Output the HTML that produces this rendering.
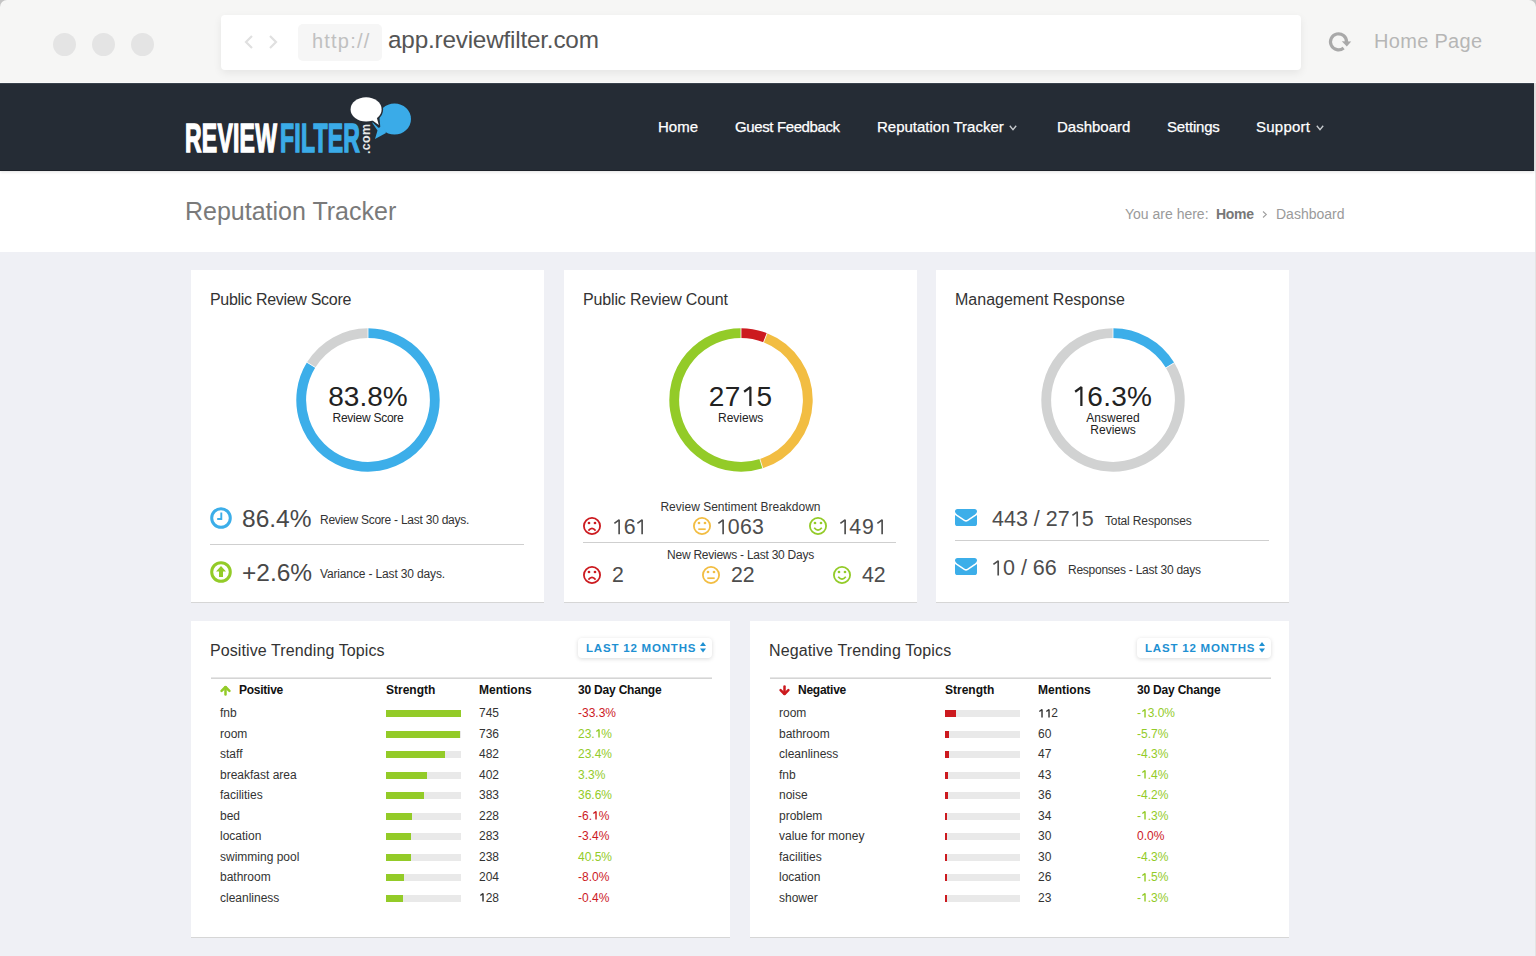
<!DOCTYPE html><html><head><meta charset="utf-8"><title>ReviewFilter</title><style>
*{margin:0;padding:0;box-sizing:border-box}
html,body{width:1536px;height:956px;overflow:hidden;background:#c4c4c4;font-family:"Liberation Sans",sans-serif}
.abs{position:absolute}
.chrome{position:absolute;left:0;top:0;width:1536px;height:83px;background:#f6f6f5}
.dot{position:absolute;top:33px;width:23px;height:23px;border-radius:50%;background:#e4e4e4}
.addr{position:absolute;left:221px;top:15px;width:1080px;height:55px;background:#fff;border-radius:4px;box-shadow:0 3px 8px rgba(0,0,0,.07)}
.nav{position:absolute;left:0;top:83px;width:1534px;height:88px;background:#252c35;border-bottom:1px solid #1c2128;box-shadow:0 1px 3px rgba(0,0,0,.12), inset 0 1px 0 #39424c;z-index:2}
.nav a{position:absolute;top:34px;color:#fff;font-size:15px;line-height:20px;text-decoration:none;white-space:nowrap;-webkit-text-stroke:0.25px #fff}
.hdr{position:absolute;left:0;top:171px;width:1535px;height:81px;background:#fff}
.main{position:absolute;left:0;top:252px;width:1535px;height:704px;background:#eff0f5}
.edge{position:absolute;left:1535px;top:171px;width:1px;height:785px;background:#e4e4e4}
.edge2{position:absolute;left:1534px;top:83px;width:2px;height:88px;background:#e6e6e6}
.card{position:absolute;background:#fff;box-shadow:0 1px 0 #d6d6d6}
.ttl{position:absolute;left:19px;top:20px;font-size:16px;line-height:20px;color:#333;white-space:nowrap}
.th{position:absolute;top:61px;font-size:12px;line-height:16px;font-weight:700;color:#111;white-space:nowrap}
.td{position:absolute;font-size:12px;line-height:16px;color:#333;white-space:nowrap}
.bar{position:absolute;width:75px;height:7px;background:#e9e9e9}
.bar i{display:block;height:7px}
.btn{position:absolute;top:17px;height:20px;width:134px;background:#fff;border-radius:4px;box-shadow:0 1px 4px rgba(0,0,0,.15);color:#1e90d2;font-size:11.5px;font-weight:700;letter-spacing:0.8px;line-height:20px;padding-left:8px;white-space:nowrap}
.hline{position:absolute;left:19.5px;height:2px;border-top:1px solid #e6e6e6;border-bottom:1px solid #d5d5d5}
.dn{position:absolute;left:104px;top:57.5px;width:144px;height:144px}
.ctr{position:absolute;left:0;width:144px;text-align:center;color:#222;white-space:nowrap}
.big{font-size:24.5px;line-height:30px;color:#484848}
.small{font-size:12px;line-height:16px;color:#333}
.mid{font-size:21.3px;line-height:24px;color:#4d4d4d;white-space:nowrap}
.mid2{font-size:21.5px;line-height:26px;color:#4d4d4d;white-space:nowrap}
.one{display:inline-block;width:0.556em;height:0.716em;vertical-align:0;overflow:visible}
.sep{position:absolute;height:1px;background:#cfcfcf}
</style></head><body>
<div class="chrome" style="border-top-left-radius:7px;border-top-right-radius:7px;overflow:hidden">
 <div class="dot" style="left:53px"></div><div class="dot" style="left:92px"></div><div class="dot" style="left:131px"></div>
 <div class="addr">
  <svg class="abs" style="left:23px;top:20px" width="36" height="14" viewBox="0 0 36 14"><path d="M8 1 L2 7 L8 13" fill="none" stroke="#e0e0e0" stroke-width="2.2"/><path d="M49 1" /><path d="M49 1"/><path d="M49 1"/><path d="M48 1"/><path d="M48 1"/></svg>
  <svg class="abs" style="left:47px;top:20px" width="12" height="14" viewBox="0 0 12 14"><path d="M2 1 L8 7 L2 13" fill="none" stroke="#e0e0e0" stroke-width="2.2"/></svg>
  <div class="abs" style="left:77px;top:9px;width:84px;height:37px;background:#f6f6f6;border-radius:5px"></div>
  <div class="abs" style="left:91px;top:14px;font-size:20px;line-height:24px;color:#c0c0c0;letter-spacing:1.2px">http://</div>
  <div class="abs" style="left:167px;top:11px;font-size:24.3px;line-height:28px;color:#555;letter-spacing:-0.2px">app.reviewfilter.com</div>
 </div>
 <svg class="abs" style="left:1327px;top:30px" width="26" height="24" viewBox="0 0 26 24"><path d="M16.64 17.93 A8 8 0 1 1 19.5 11.9" fill="none" stroke="#a9a9a9" stroke-width="3.2"/><path d="M14.8 11.3 L24.2 11.6 L19.8 16.6 Z" fill="#a9a9a9"/></svg>
 <div class="abs" style="left:1374px;top:29px;font-size:20px;line-height:24px;color:#b6b6b6;letter-spacing:0.3px">Home Page</div>
</div>
<div class="abs" style="left:0;top:82px;width:1536px;height:1px;background:#fff"></div>
<div class="nav">
 <div class="abs" style="left:185px;top:35px;font-size:40px;line-height:40px;font-weight:700;color:#fff;-webkit-text-stroke:1.5px #fff;transform:scaleX(0.575);transform-origin:0 0;white-space:nowrap;letter-spacing:0.4px">REVIEW<span style="color:#3aabe8;-webkit-text-stroke:1.5px #3aabe8;margin-left:5px">FILTER</span></div>
 <div class="abs" style="left:361px;top:71px;font-size:12.5px;line-height:11px;color:#e8e8e8;font-weight:700;transform:rotate(-90deg);transform-origin:0 0;white-space:nowrap;letter-spacing:0.3px">.com</div>
 <svg class="abs" style="left:345px;top:10px" width="70" height="60" viewBox="0 0 70 60">
  <ellipse cx="49.5" cy="26" rx="16.5" ry="15.6" fill="#3aabe8"/>
  <path d="M27 29.6 L36 28 L41 40 L30 46 L32.5 37.5 Z" fill="#3aabe8"/>
  <ellipse cx="21.1" cy="16.4" rx="17" ry="13.6" fill="#252c35"/>
  <path d="M25 25 L34 33.5 L33 22 Z" fill="#252c35" stroke="#252c35" stroke-width="2.5" stroke-linejoin="round"/>
  <ellipse cx="21.1" cy="16.4" rx="15.5" ry="12.1" fill="#fff"/>
  <path d="M25.5 26 L33.8 32.1 L31.5 23.5 Z" fill="#fff"/>
 </svg>
 <a style="left:658px">Home</a>
 <a style="left:735px;letter-spacing:-0.38px">Guest Feedback</a>
 <a style="left:877px">Reputation Tracker</a>
 <a style="left:1057px">Dashboard</a>
 <a style="left:1167px;letter-spacing:-0.2px">Settings</a>
 <a style="left:1256px;letter-spacing:0.25px">Support</a>
 <svg class="abs" style="left:1009px;top:42px" width="8" height="6" viewBox="0 0 8 6"><path d="M0.8 0.8 L4 4.6 L7.2 0.8" fill="none" stroke="#c8cbcf" stroke-width="1.35"/></svg>
 <svg class="abs" style="left:1315.5px;top:42px" width="8" height="6" viewBox="0 0 8 6"><path d="M0.8 0.8 L4 4.6 L7.2 0.8" fill="none" stroke="#c8cbcf" stroke-width="1.35"/></svg>
</div>
<div class="hdr">
 <div class="abs" style="left:185px;top:25px;font-size:25px;line-height:30px;color:#7a7a7a">Reputation Tracker</div>
 <div class="abs" style="left:1125px;top:34px;font-size:14px;line-height:18px;color:#9a9a9a;white-space:nowrap">You are here:</div>
 <div class="abs" style="left:1216px;top:34px;font-size:14px;line-height:18px;color:#777;font-weight:700;white-space:nowrap;letter-spacing:-0.3px">Home</div>
 <svg class="abs" style="left:1262px;top:40px" width="6" height="7" viewBox="0 0 6 7"><path d="M1 0.5 L4.3 3.5 L1 6.5" fill="none" stroke="#a0a0a0" stroke-width="1.1"/></svg>
 <div class="abs" style="left:1276px;top:34px;font-size:14px;line-height:18px;color:#9a9a9a;white-space:nowrap">Dashboard</div>
</div>
<div class="main"></div>
<div class="edge"></div><div class="edge2"></div>

<div class="card" style="left:191px;top:270px;width:353px;height:332px">
 <div class="ttl" style="letter-spacing:-0.3px">Public Review Score</div>
 <div class="dn" style="left:105px"><svg width="144" height="144" viewBox="0 0 144 144"><path d="M72.00,5.20 A66.8,66.8 0 1 1 15.15,36.92" fill="none" stroke="#3caee9" stroke-width="9.8"/><path d="M15.15,36.92 A66.8,66.8 0 0 1 72.00,5.20" fill="none" stroke="#d1d2d2" stroke-width="9.8"/><line x1="72.00" y1="11.20" x2="72.00" y2="-0.80" stroke="#fff" stroke-width="0.8"/><line x1="20.26" y1="40.07" x2="10.05" y2="33.77" stroke="#fff" stroke-width="0.8"/></svg>
  <div class="ctr" style="top:53.5px;font-size:28px;line-height:32px">83.8%</div>
  <div class="ctr" style="top:83.5px;font-size:12px;line-height:14px;letter-spacing:-0.25px">Review Score</div>
 </div>
 <svg class="abs" style="left:19px;top:237px" width="22" height="22" viewBox="0 0 22 22"><circle cx="11" cy="11" r="9.3" fill="none" stroke="#3caee9" stroke-width="3"/><path d="M11.3 5.6 V12 H7.2" fill="none" stroke="#3caee9" stroke-width="1.9"/></svg>
 <div class="abs big" style="left:51px;top:234px">86.4%</div>
 <div class="abs small" style="left:129px;top:241.5px;letter-spacing:-0.25px">Review Score - Last 30 days.</div>
 <div class="sep" style="left:19px;top:274px;width:314px"></div>
 <svg class="abs" style="left:19px;top:291px" width="22" height="22" viewBox="0 0 22 22"><circle cx="11" cy="11" r="9.3" fill="none" stroke="#93cb28" stroke-width="3"/><path d="M11 5 L16 10.5 L13 10.5 L13 16 L9 16 L9 10.5 L6 10.5 Z" fill="#93cb28"/></svg>
 <div class="abs big" style="left:51px;top:288px">+2.6%</div>
 <div class="abs small" style="left:129px;top:295.5px;letter-spacing:-0.15px">Variance - Last 30 days.</div>
</div>

<div class="card" style="left:564px;top:270px;width:353px;height:332px">
 <div class="ttl" style="letter-spacing:-0.15px">Public Review Count</div>
 <div class="dn" style="left:104.7px"><svg width="144" height="144" viewBox="0 0 144 144"><path d="M72.00,5.20 A66.8,66.8 0 0 1 96.32,9.78" fill="none" stroke="#cc1a1f" stroke-width="9.8"/><path d="M96.32,9.78 A66.8,66.8 0 0 1 92.31,135.64" fill="none" stroke="#f2bd42" stroke-width="9.8"/><path d="M92.31,135.64 A66.8,66.8 0 1 1 72.00,5.20" fill="none" stroke="#93cb28" stroke-width="9.8"/><line x1="72.00" y1="11.20" x2="72.00" y2="-0.80" stroke="#fff" stroke-width="0.8"/><line x1="94.13" y1="15.37" x2="98.50" y2="4.20" stroke="#fff" stroke-width="0.8"/><line x1="90.49" y1="129.92" x2="94.14" y2="141.35" stroke="#fff" stroke-width="0.8"/></svg>
  <div class="ctr" style="top:53.5px;font-size:28px;line-height:32px;letter-spacing:0.5px">27<svg class="one" viewBox="0 0 556 716" preserveAspectRatio="none"><path d="M335 716 V40 L112 205" fill="none" stroke="currentColor" stroke-width="80" stroke-linejoin="bevel"/></svg>5</div>
  <div class="ctr" style="top:83.5px;font-size:12px;line-height:14px">Reviews</div>
 </div>
 <div class="abs small" style="left:0;width:353px;text-align:center;top:229px">Review Sentiment Breakdown</div>
 <svg class="abs" style="left:18px;top:246px" width="20" height="20" viewBox="0 0 20 20"><circle cx="10" cy="10" r="8.1" fill="none" stroke="#cc1a1f" stroke-width="1.8"/><circle cx="7" cy="7" r="1.35" fill="#cc1a1f"/><circle cx="13" cy="7" r="1.35" fill="#cc1a1f"/><path d="M6.4 14.6 Q10 10.2 13.6 14.6" fill="none" stroke="#cc1a1f" stroke-width="1.7"/></svg><div class="abs mid" style="left:48px;top:245px;letter-spacing:-0.6px"><svg class="one" viewBox="0 0 556 716" preserveAspectRatio="none"><path d="M335 716 V40 L112 205" fill="none" stroke="currentColor" stroke-width="78" stroke-linejoin="bevel"/></svg>6<svg class="one" viewBox="0 0 556 716" preserveAspectRatio="none"><path d="M335 716 V40 L112 205" fill="none" stroke="currentColor" stroke-width="78" stroke-linejoin="bevel"/></svg></div>
 <svg class="abs" style="left:127.5px;top:246px" width="20" height="20" viewBox="0 0 20 20"><circle cx="10" cy="10" r="8.1" fill="none" stroke="#f2bd42" stroke-width="1.8"/><circle cx="7" cy="7" r="1.35" fill="#f2bd42"/><circle cx="13" cy="7" r="1.35" fill="#f2bd42"/><path d="M6.3 13.2 H13.7" fill="none" stroke="#f2bd42" stroke-width="1.7"/></svg><div class="abs mid" style="left:152px;top:245px;letter-spacing:0.3px"><svg class="one" viewBox="0 0 556 716" preserveAspectRatio="none"><path d="M335 716 V40 L112 205" fill="none" stroke="currentColor" stroke-width="78" stroke-linejoin="bevel"/></svg>063</div>
 <svg class="abs" style="left:244px;top:246px" width="20" height="20" viewBox="0 0 20 20"><circle cx="10" cy="10" r="8.1" fill="none" stroke="#93cb28" stroke-width="1.8"/><circle cx="7" cy="7" r="1.35" fill="#93cb28"/><circle cx="13" cy="7" r="1.35" fill="#93cb28"/><path d="M6.2 11.8 Q10 16.4 13.8 11.8" fill="none" stroke="#93cb28" stroke-width="1.7"/></svg><div class="abs mid" style="left:273.5px;top:245px;letter-spacing:0.8px"><svg class="one" viewBox="0 0 556 716" preserveAspectRatio="none"><path d="M335 716 V40 L112 205" fill="none" stroke="currentColor" stroke-width="78" stroke-linejoin="bevel"/></svg>49<svg class="one" viewBox="0 0 556 716" preserveAspectRatio="none"><path d="M335 716 V40 L112 205" fill="none" stroke="currentColor" stroke-width="78" stroke-linejoin="bevel"/></svg></div>
 <div class="sep" style="left:19px;top:272px;width:313px"></div>
 <div class="abs small" style="left:0;width:353px;text-align:center;top:276.5px;letter-spacing:-0.25px">New Reviews - Last 30 Days</div>
 <svg class="abs" style="left:18px;top:295px" width="20" height="20" viewBox="0 0 20 20"><circle cx="10" cy="10" r="8.1" fill="none" stroke="#cc1a1f" stroke-width="1.8"/><circle cx="7" cy="7" r="1.35" fill="#cc1a1f"/><circle cx="13" cy="7" r="1.35" fill="#cc1a1f"/><path d="M6.4 14.6 Q10 10.2 13.6 14.6" fill="none" stroke="#cc1a1f" stroke-width="1.7"/></svg><div class="abs mid" style="left:48px;top:293.3px">2</div>
 <svg class="abs" style="left:137px;top:295px" width="20" height="20" viewBox="0 0 20 20"><circle cx="10" cy="10" r="8.1" fill="none" stroke="#f2bd42" stroke-width="1.8"/><circle cx="7" cy="7" r="1.35" fill="#f2bd42"/><circle cx="13" cy="7" r="1.35" fill="#f2bd42"/><path d="M6.3 13.2 H13.7" fill="none" stroke="#f2bd42" stroke-width="1.7"/></svg><div class="abs mid" style="left:167px;top:293.3px">22</div>
 <svg class="abs" style="left:268px;top:295px" width="20" height="20" viewBox="0 0 20 20"><circle cx="10" cy="10" r="8.1" fill="none" stroke="#93cb28" stroke-width="1.8"/><circle cx="7" cy="7" r="1.35" fill="#93cb28"/><circle cx="13" cy="7" r="1.35" fill="#93cb28"/><path d="M6.2 11.8 Q10 16.4 13.8 11.8" fill="none" stroke="#93cb28" stroke-width="1.7"/></svg><div class="abs mid" style="left:298px;top:293.3px">42</div>
</div>

<div class="card" style="left:936px;top:270px;width:353px;height:332px">
 <div class="ttl">Management Response</div>
 <div class="dn" style="left:105px"><svg width="144" height="144" viewBox="0 0 144 144"><path d="M72.00,5.20 A66.8,66.8 0 0 1 129.07,37.28" fill="none" stroke="#3caee9" stroke-width="9.8"/><path d="M129.07,37.28 A66.8,66.8 0 1 1 72.00,5.20" fill="none" stroke="#d1d2d2" stroke-width="9.8"/><line x1="72.00" y1="11.20" x2="72.00" y2="-0.80" stroke="#fff" stroke-width="0.8"/><line x1="123.94" y1="40.40" x2="134.19" y2="34.16" stroke="#fff" stroke-width="0.8"/></svg>
  <div class="ctr" style="top:53.5px;font-size:28px;line-height:32px;letter-spacing:0.3px;margin-left:-1px"><svg class="one" viewBox="0 0 556 716" preserveAspectRatio="none"><path d="M335 716 V40 L112 205" fill="none" stroke="currentColor" stroke-width="80" stroke-linejoin="bevel"/></svg>6.3%</div>
  <div class="ctr" style="top:84px;font-size:12px;line-height:12.8px">Answered<br>Reviews</div>
 </div>
 <svg class="abs" style="left:19px;top:239px" width="22" height="17" viewBox="0 0 22 17"><path d="M0 2.6 Q0 0 2.6 0 H19.4 Q22 0 22 2.6 Q22 4.2 20 5.6 L12.6 10.6 Q11 11.6 9.4 10.6 L2 5.6 Q0 4.2 0 2.6 Z" fill="#3caee9"/><path d="M0 5.9 L9 12 Q11 13.3 13 12 L22 5.9 V14.4 Q22 17 19.4 17 H2.6 Q0 17 0 14.4 Z" fill="#3caee9"/></svg><div class="abs mid2" style="left:56px;top:236px">443 / 27<svg class="one" viewBox="0 0 556 716" preserveAspectRatio="none"><path d="M335 716 V40 L112 205" fill="none" stroke="currentColor" stroke-width="78" stroke-linejoin="bevel"/></svg>5</div><div class="abs small" style="left:169px;top:242.5px;letter-spacing:-0.14px">Total Responses</div>
 <div class="sep" style="left:19px;top:270px;width:314px"></div>
 <svg class="abs" style="left:19px;top:288px" width="22" height="17" viewBox="0 0 22 17"><path d="M0 2.6 Q0 0 2.6 0 H19.4 Q22 0 22 2.6 Q22 4.2 20 5.6 L12.6 10.6 Q11 11.6 9.4 10.6 L2 5.6 Q0 4.2 0 2.6 Z" fill="#3caee9"/><path d="M0 5.9 L9 12 Q11 13.3 13 12 L22 5.9 V14.4 Q22 17 19.4 17 H2.6 Q0 17 0 14.4 Z" fill="#3caee9"/></svg><div class="abs mid2" style="left:55px;top:285px"><svg class="one" viewBox="0 0 556 716" preserveAspectRatio="none"><path d="M335 716 V40 L112 205" fill="none" stroke="currentColor" stroke-width="78" stroke-linejoin="bevel"/></svg>0 / 66</div><div class="abs small" style="left:132px;top:291.5px;letter-spacing:-0.25px">Responses - Last 30 days</div>
</div>

<div class="card" style="left:191px;top:621px;width:539px;height:316px">
 <div class="ttl" style="letter-spacing:0.1px">Positive Trending Topics</div>
 <div class="btn" style="left:387px">LAST 12 MONTHS<svg class="abs" style="left:122px;top:4px" width="6" height="11" viewBox="0 0 6 11"><path d="M0 4 L3 0 L6 4 Z M0 6.5 L3 10.5 L6 6.5 Z" fill="#1e90d2"/></svg></div>
 <div class="hline" style="top:56px;width:501px"></div>
 <svg width="11" height="11" viewBox="0 0 11 11" style="position:absolute;left:28.5px;top:64px"><g fill="none" stroke="#93cb28" stroke-width="2.5" stroke-linecap="round" stroke-linejoin="round"><path d="M5.5 2.3 V9.6"/><path d="M1.6 5.9 L5.5 2 L9.4 5.9"/></g></svg><div class="th" style="left:48px;letter-spacing:-0.25px">Positive</div><div class="th" style="left:195px">Strength</div><div class="th" style="left:288px">Mentions</div><div class="th" style="left:387px;letter-spacing:-0.2px">30 Day Change</div><div class="td" style="left:29px;top:84.2px">fnb</div><div class="bar" style="left:195px;top:89.0px"><i style="width:100%;background:#93cb28"></i></div><div class="td" style="left:288px;top:84.2px">745</div><div class="td" style="left:387px;top:84.2px;color:#cc1a1f">-33.3%</div><div class="td" style="left:29px;top:104.7px">room</div><div class="bar" style="left:195px;top:109.5px"><i style="width:99%;background:#93cb28"></i></div><div class="td" style="left:288px;top:104.7px">736</div><div class="td" style="left:387px;top:104.7px;color:#93cb28">23.<svg class="one" viewBox="0 0 556 716" preserveAspectRatio="none"><path d="M335 716 V40 L112 205" fill="none" stroke="currentColor" stroke-width="118" stroke-linejoin="bevel"/></svg>%</div><div class="td" style="left:29px;top:125.2px">staff</div><div class="bar" style="left:195px;top:130.0px"><i style="width:79%;background:#93cb28"></i></div><div class="td" style="left:288px;top:125.2px">482</div><div class="td" style="left:387px;top:125.2px;color:#93cb28">23.4%</div><div class="td" style="left:29px;top:145.7px">breakfast area</div><div class="bar" style="left:195px;top:150.5px"><i style="width:55%;background:#93cb28"></i></div><div class="td" style="left:288px;top:145.7px">402</div><div class="td" style="left:387px;top:145.7px;color:#93cb28">3.3%</div><div class="td" style="left:29px;top:166.2px">facilities</div><div class="bar" style="left:195px;top:171.0px"><i style="width:50%;background:#93cb28"></i></div><div class="td" style="left:288px;top:166.2px">383</div><div class="td" style="left:387px;top:166.2px;color:#93cb28">36.6%</div><div class="td" style="left:29px;top:186.7px">bed</div><div class="bar" style="left:195px;top:191.5px"><i style="width:35%;background:#93cb28"></i></div><div class="td" style="left:288px;top:186.7px">228</div><div class="td" style="left:387px;top:186.7px;color:#cc1a1f">-6.<svg class="one" viewBox="0 0 556 716" preserveAspectRatio="none"><path d="M335 716 V40 L112 205" fill="none" stroke="currentColor" stroke-width="118" stroke-linejoin="bevel"/></svg>%</div><div class="td" style="left:29px;top:207.2px">location</div><div class="bar" style="left:195px;top:212.0px"><i style="width:33%;background:#93cb28"></i></div><div class="td" style="left:288px;top:207.2px">283</div><div class="td" style="left:387px;top:207.2px;color:#cc1a1f">-3.4%</div><div class="td" style="left:29px;top:227.7px">swimming pool</div><div class="bar" style="left:195px;top:232.5px"><i style="width:33%;background:#93cb28"></i></div><div class="td" style="left:288px;top:227.7px">238</div><div class="td" style="left:387px;top:227.7px;color:#93cb28">40.5%</div><div class="td" style="left:29px;top:248.2px">bathroom</div><div class="bar" style="left:195px;top:253.0px"><i style="width:24%;background:#93cb28"></i></div><div class="td" style="left:288px;top:248.2px">204</div><div class="td" style="left:387px;top:248.2px;color:#cc1a1f">-8.0%</div><div class="td" style="left:29px;top:268.7px">cleanliness</div><div class="bar" style="left:195px;top:273.5px"><i style="width:22%;background:#93cb28"></i></div><div class="td" style="left:288px;top:268.7px"><svg class="one" viewBox="0 0 556 716" preserveAspectRatio="none"><path d="M335 716 V40 L112 205" fill="none" stroke="currentColor" stroke-width="118" stroke-linejoin="bevel"/></svg>28</div><div class="td" style="left:387px;top:268.7px;color:#cc1a1f">-0.4%</div>
</div>

<div class="card" style="left:750px;top:621px;width:539px;height:316px">
 <div class="ttl" style="letter-spacing:0.12px">Negative Trending Topics</div>
 <div class="btn" style="left:387px">LAST 12 MONTHS<svg class="abs" style="left:122px;top:4px" width="6" height="11" viewBox="0 0 6 11"><path d="M0 4 L3 0 L6 4 Z M0 6.5 L3 10.5 L6 6.5 Z" fill="#1e90d2"/></svg></div>
 <div class="hline" style="top:56px;width:501px"></div>
 <svg width="11" height="11" viewBox="0 0 11 11" style="position:absolute;left:28.5px;top:63.5px"><g fill="none" stroke="#cc1a1f" stroke-width="2.5" stroke-linecap="round" stroke-linejoin="round"><path d="M5.5 1.4 V8.7"/><path d="M1.6 5.1 L5.5 9 L9.4 5.1"/></g></svg><div class="th" style="left:48px;letter-spacing:-0.25px">Negative</div><div class="th" style="left:195px">Strength</div><div class="th" style="left:288px">Mentions</div><div class="th" style="left:387px;letter-spacing:-0.2px">30 Day Change</div><div class="td" style="left:29px;top:84.2px">room</div><div class="bar" style="left:195px;top:89.0px"><i style="width:14%;background:#cc1a1f"></i></div><div class="td" style="left:288px;top:84.2px"><svg class="one" viewBox="0 0 556 716" preserveAspectRatio="none"><path d="M335 716 V40 L112 205" fill="none" stroke="currentColor" stroke-width="118" stroke-linejoin="bevel"/></svg><svg class="one" viewBox="0 0 556 716" preserveAspectRatio="none"><path d="M335 716 V40 L112 205" fill="none" stroke="currentColor" stroke-width="118" stroke-linejoin="bevel"/></svg>2</div><div class="td" style="left:387px;top:84.2px;color:#93cb28">-<svg class="one" viewBox="0 0 556 716" preserveAspectRatio="none"><path d="M335 716 V40 L112 205" fill="none" stroke="currentColor" stroke-width="118" stroke-linejoin="bevel"/></svg>3.0%</div><div class="td" style="left:29px;top:104.7px">bathroom</div><div class="bar" style="left:195px;top:109.5px"><i style="width:5%;background:#cc1a1f"></i></div><div class="td" style="left:288px;top:104.7px">60</div><div class="td" style="left:387px;top:104.7px;color:#93cb28">-5.7%</div><div class="td" style="left:29px;top:125.2px">cleanliness</div><div class="bar" style="left:195px;top:130.0px"><i style="width:5%;background:#cc1a1f"></i></div><div class="td" style="left:288px;top:125.2px">47</div><div class="td" style="left:387px;top:125.2px;color:#93cb28">-4.3%</div><div class="td" style="left:29px;top:145.7px">fnb</div><div class="bar" style="left:195px;top:150.5px"><i style="width:4%;background:#cc1a1f"></i></div><div class="td" style="left:288px;top:145.7px">43</div><div class="td" style="left:387px;top:145.7px;color:#93cb28">-<svg class="one" viewBox="0 0 556 716" preserveAspectRatio="none"><path d="M335 716 V40 L112 205" fill="none" stroke="currentColor" stroke-width="118" stroke-linejoin="bevel"/></svg>.4%</div><div class="td" style="left:29px;top:166.2px">noise</div><div class="bar" style="left:195px;top:171.0px"><i style="width:4%;background:#cc1a1f"></i></div><div class="td" style="left:288px;top:166.2px">36</div><div class="td" style="left:387px;top:166.2px;color:#93cb28">-4.2%</div><div class="td" style="left:29px;top:186.7px">problem</div><div class="bar" style="left:195px;top:191.5px"><i style="width:2%;background:#cc1a1f"></i></div><div class="td" style="left:288px;top:186.7px">34</div><div class="td" style="left:387px;top:186.7px;color:#93cb28">-<svg class="one" viewBox="0 0 556 716" preserveAspectRatio="none"><path d="M335 716 V40 L112 205" fill="none" stroke="currentColor" stroke-width="118" stroke-linejoin="bevel"/></svg>.3%</div><div class="td" style="left:29px;top:207.2px">value for money</div><div class="bar" style="left:195px;top:212.0px"><i style="width:2%;background:#cc1a1f"></i></div><div class="td" style="left:288px;top:207.2px">30</div><div class="td" style="left:387px;top:207.2px;color:#cc1a1f">0.0%</div><div class="td" style="left:29px;top:227.7px">facilities</div><div class="bar" style="left:195px;top:232.5px"><i style="width:2%;background:#cc1a1f"></i></div><div class="td" style="left:288px;top:227.7px">30</div><div class="td" style="left:387px;top:227.7px;color:#93cb28">-4.3%</div><div class="td" style="left:29px;top:248.2px">location</div><div class="bar" style="left:195px;top:253.0px"><i style="width:2%;background:#cc1a1f"></i></div><div class="td" style="left:288px;top:248.2px">26</div><div class="td" style="left:387px;top:248.2px;color:#93cb28">-<svg class="one" viewBox="0 0 556 716" preserveAspectRatio="none"><path d="M335 716 V40 L112 205" fill="none" stroke="currentColor" stroke-width="118" stroke-linejoin="bevel"/></svg>.5%</div><div class="td" style="left:29px;top:268.7px">shower</div><div class="bar" style="left:195px;top:273.5px"><i style="width:2%;background:#cc1a1f"></i></div><div class="td" style="left:288px;top:268.7px">23</div><div class="td" style="left:387px;top:268.7px;color:#93cb28">-<svg class="one" viewBox="0 0 556 716" preserveAspectRatio="none"><path d="M335 716 V40 L112 205" fill="none" stroke="currentColor" stroke-width="118" stroke-linejoin="bevel"/></svg>.3%</div>
</div>
</body></html>
